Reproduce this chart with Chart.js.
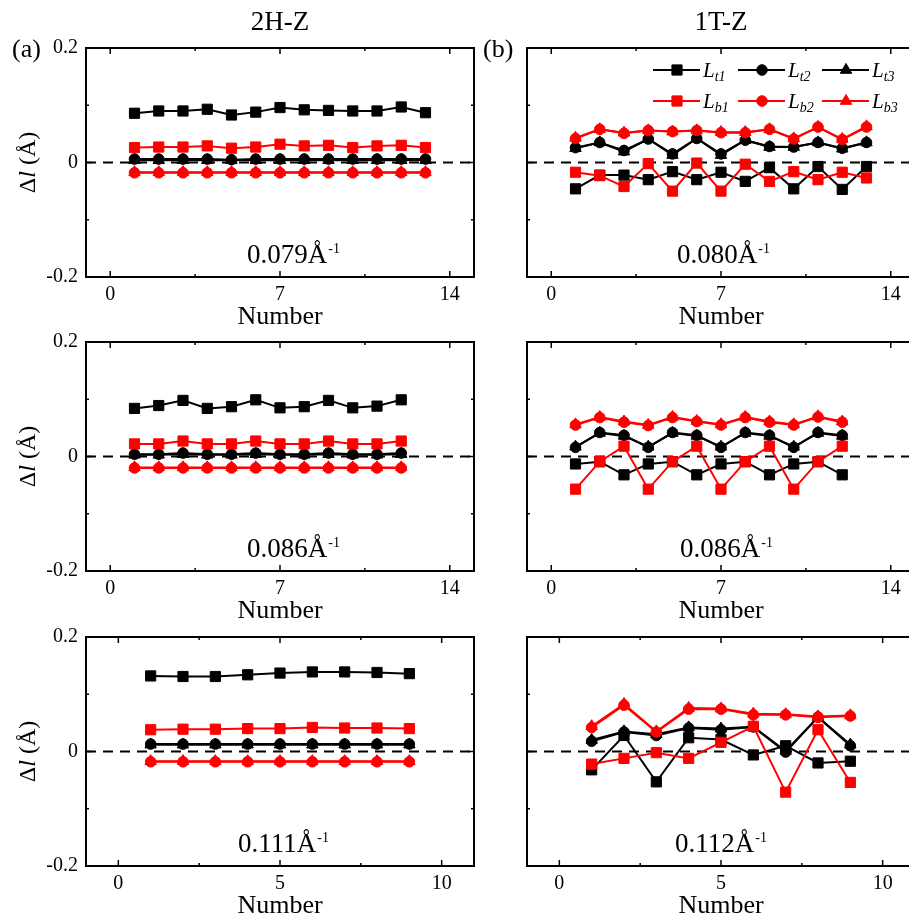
<!DOCTYPE html>
<html>
<head>
<meta charset="utf-8">
<script src="https://cdn.jsdelivr.net/npm/chart.js@4.4.1/dist/chart.umd.min.js"></script>
<style>
html, body { margin: 0; padding: 0; background: #fff; overflow: hidden; }
#page { position: relative; width: 909px; height: 918px; overflow: hidden; background: #fff; }
.panel { position: absolute; }
</style>
</head>
<body>
<div id="page">
<canvas id="a1" class="panel" width="514" height="329"></canvas>
<canvas id="b1" class="panel" width="514" height="329"></canvas>
<canvas id="a2" class="panel" width="514" height="329"></canvas>
<canvas id="b2" class="panel" width="514" height="329"></canvas>
<canvas id="a3" class="panel" width="514" height="329"></canvas>
<canvas id="b3" class="panel" width="514" height="329"></canvas>
</div>
<script>
// Number (x values)
const num13 = [1, 2, 3, 4, 5, 6, 7, 8, 9, 10, 11, 12, 13];
const num12 = [1, 2, 3, 4, 5, 6, 7, 8, 9, 10, 11, 12];
const num9 = [1, 2, 3, 4, 5, 6, 7, 8, 9];

// tick labels
const xTicks14 = [0, 7, 14];
const xMinor14 = [3.5, 10.5];
const xTicks10 = [0, 5, 10];
const xMinor10 = [2.5, 7.5];
const yTicks = [-0.2, 0, 0.2];
const yMinor = [-0.1, 0.1];
const yTickLabels = ['-0.2', '0', '0.2'];

// 2H-Z, 0.079 1/A
const a1Lt1 = [0.086, 0.090, 0.090, 0.093, 0.083, 0.088, 0.096, 0.092, 0.091, 0.090, 0.090, 0.097, 0.087];
const a1Lt2 = [0.006, 0.006, 0.006, 0.006, 0.005, 0.006, 0.006, 0.006, 0.006, 0.006, 0.006, 0.006, 0.006];
const a1Lt3 = [0.004, 0.004, 0.004, 0.004, 0.004, 0.004, 0.004, 0.004, 0.004, 0.004, 0.004, 0.004, 0.004];
const a1Lb1 = [0.026, 0.027, 0.027, 0.029, 0.025, 0.027, 0.032, 0.029, 0.030, 0.026, 0.029, 0.030, 0.026];
const a1Lb2 = [-0.018, -0.018, -0.018, -0.018, -0.018, -0.018, -0.018, -0.018, -0.018, -0.018, -0.018, -0.018, -0.018];
const a1Lb3 = [-0.017, -0.017, -0.017, -0.017, -0.017, -0.017, -0.017, -0.017, -0.017, -0.017, -0.017, -0.017, -0.017];

// 1T-Z, 0.080 1/A
const b1Lt1 = [-0.046, -0.022, -0.022, -0.030, -0.016, -0.030, -0.017, -0.033, -0.009, -0.046, -0.007, -0.047, -0.007];
const b1Lt2 = [0.026, 0.035, 0.021, 0.041, 0.015, 0.042, 0.015, 0.039, 0.028, 0.027, 0.035, 0.025, 0.035];
const b1Lt3 = [0.025, 0.035, 0.019, 0.041, 0.013, 0.042, 0.013, 0.039, 0.027, 0.027, 0.035, 0.024, 0.035];
const b1Lb1 = [-0.017, -0.023, -0.042, -0.002, -0.050, -0.001, -0.050, -0.003, -0.033, -0.016, -0.030, -0.017, -0.027];
const b1Lb2 = [0.042, 0.058, 0.051, 0.056, 0.054, 0.056, 0.052, 0.052, 0.058, 0.041, 0.062, 0.040, 0.062];
const b1Lb3 = [0.043, 0.058, 0.052, 0.056, 0.054, 0.056, 0.053, 0.053, 0.058, 0.042, 0.062, 0.041, 0.063];

// 2H-Z, 0.086 1/A
const a2Lt1 = [0.084, 0.089, 0.098, 0.084, 0.087, 0.099, 0.085, 0.087, 0.098, 0.085, 0.088, 0.099];
const a2Lt2 = [0.004, 0.004, 0.006, 0.004, 0.004, 0.006, 0.004, 0.004, 0.006, 0.004, 0.004, 0.006];
const a2Lt3 = [0.003, 0.003, 0.004, 0.003, 0.003, 0.004, 0.003, 0.003, 0.004, 0.003, 0.003, 0.004];
const a2Lb1 = [0.022, 0.022, 0.027, 0.022, 0.022, 0.027, 0.022, 0.022, 0.027, 0.022, 0.022, 0.027];
const a2Lb2 = [-0.020, -0.020, -0.020, -0.020, -0.020, -0.020, -0.020, -0.020, -0.020, -0.020, -0.020, -0.020];
const a2Lb3 = [-0.019, -0.019, -0.019, -0.019, -0.019, -0.019, -0.019, -0.019, -0.019, -0.019, -0.019, -0.019];

// 1T-Z, 0.086 1/A
const b2Lt1 = [-0.013, -0.009, -0.032, -0.013, -0.009, -0.032, -0.013, -0.009, -0.032, -0.013, -0.009, -0.032];
const b2Lt2 = [0.016, 0.042, 0.037, 0.016, 0.042, 0.037, 0.016, 0.042, 0.037, 0.016, 0.042, 0.037];
const b2Lt3 = [0.017, 0.041, 0.036, 0.017, 0.041, 0.036, 0.017, 0.041, 0.036, 0.017, 0.041, 0.036];
const b2Lb1 = [-0.057, -0.009, 0.018, -0.057, -0.009, 0.018, -0.057, -0.009, 0.018, -0.057, -0.009, 0.018];
const b2Lb2 = [0.055, 0.068, 0.060, 0.054, 0.068, 0.061, 0.055, 0.068, 0.060, 0.055, 0.069, 0.060];
const b2Lb3 = [0.056, 0.069, 0.061, 0.055, 0.069, 0.062, 0.056, 0.069, 0.061, 0.056, 0.070, 0.061];

// 2H-Z, 0.111 1/A
const a3Lt1 = [0.132, 0.131, 0.131, 0.134, 0.137, 0.139, 0.139, 0.138, 0.136];
const a3Lt2 = [0.013, 0.013, 0.013, 0.013, 0.013, 0.013, 0.013, 0.013, 0.013];
const a3Lt3 = [0.012, 0.012, 0.012, 0.012, 0.012, 0.012, 0.012, 0.012, 0.012];
const a3Lb1 = [0.038, 0.039, 0.039, 0.040, 0.040, 0.042, 0.041, 0.041, 0.040];
const a3Lb2 = [-0.018, -0.018, -0.018, -0.018, -0.018, -0.018, -0.018, -0.018, -0.018];
const a3Lb3 = [-0.017, -0.017, -0.017, -0.017, -0.017, -0.017, -0.017, -0.017, -0.017];

// 1T-Z, 0.112 1/A
const b3Lt1 = [-0.032, 0.028, -0.053, 0.024, 0.021, -0.006, 0.010, -0.020, -0.017];
const b3Lt2 = [0.018, 0.034, 0.028, 0.041, 0.038, 0.043, -0.001, 0.060, 0.010];
const b3Lt3 = [0.020, 0.035, 0.030, 0.042, 0.040, 0.043, 0.001, 0.060, 0.012];
const b3Lb1 = [-0.022, -0.012, -0.002, -0.012, 0.016, 0.044, -0.071, 0.038, -0.054];
const b3Lb2 = [0.042, 0.081, 0.034, 0.074, 0.074, 0.064, 0.064, 0.060, 0.062];
const b3Lb3 = [0.044, 0.083, 0.035, 0.076, 0.075, 0.066, 0.065, 0.061, 0.063];

const FONT = '"Liberation Serif", "Times New Roman", serif';

// layout of the 3x2 grid (plot boxes in page pixels)
const PAD = { left: 86, top: 48, right: 40, bottom: 52 };
const colLeft = [86, 527];
const rowTop = [48, 342, 637];

const seriesStyle = [
    { sub: 't1', color: '#000000', style: 'rect', r: 7.2 },
    { sub: 't2', color: '#000000', style: 'circle', r: 5.3 },
    { sub: 't3', color: '#000000', style: 'triangle', r: 6.6 },
    { sub: 'b1', color: '#ff0000', style: 'rect', r: 7.2 },
    { sub: 'b2', color: '#ff0000', style: 'circle', r: 5.3 },
    { sub: 'b3', color: '#ff0000', style: 'triangle', r: 6.6 }
];

const panels = [
    { id: 'a1', col: 0, row: 0, x: num13, xMax: 15, ticks: xTicks14, minor: xMinor14, note: '0.079', noteX: 161,
      series: [a1Lt1, a1Lt2, a1Lt3, a1Lb1, a1Lb2, a1Lb3], title: '2H-Z', tag: '(a)' },
    { id: 'b1', col: 1, row: 0, x: num13, xMax: 15, ticks: xTicks14, minor: xMinor14, note: '0.080', noteX: 150,
      series: [b1Lt1, b1Lt2, b1Lt3, b1Lb1, b1Lb2, b1Lb3], title: '1T-Z', tag: '(b)', legend: true },
    { id: 'a2', col: 0, row: 1, x: num12, xMax: 15, ticks: xTicks14, minor: xMinor14, note: '0.086', noteX: 161,
      series: [a2Lt1, a2Lt2, a2Lt3, a2Lb1, a2Lb2, a2Lb3] },
    { id: 'b2', col: 1, row: 1, x: num12, xMax: 15, ticks: xTicks14, minor: xMinor14, note: '0.086', noteX: 153,
      series: [b2Lt1, b2Lt2, b2Lt3, b2Lb1, b2Lb2, b2Lb3] },
    { id: 'a3', col: 0, row: 2, x: num9, xMax: 11, ticks: xTicks10, minor: xMinor10, note: '0.111', noteX: 152,
      series: [a3Lt1, a3Lt2, a3Lt3, a3Lb1, a3Lb2, a3Lb3] },
    { id: 'b3', col: 1, row: 2, x: num9, xMax: 11, ticks: xTicks10, minor: xMinor10, note: '0.112', noteX: 148,
      series: [b3Lt1, b3Lt2, b3Lt3, b3Lb1, b3Lb2, b3Lb3] }
];

// draw a marker like the chart points (used in the legend)
const drawMarker = (ctx, style, x, y, r) => {
    ctx.beginPath();
    if (style === 'rect') {
        const h = r * Math.SQRT1_2;
        ctx.rect(x - h, y - h, 2 * h, 2 * h);
    } else if (style === 'circle') {
        ctx.arc(x, y, r, 0, Math.PI * 2);
    } else {
        for (let k = 0; k < 3; k++) {
            const ang = k * 2 * Math.PI / 3;
            ctx.lineTo(x + Math.sin(ang) * r, y - Math.cos(ang) * r);
        }
        ctx.closePath();
    }
    ctx.fill();
    ctx.stroke();
};

const drawLegend = (ctx, a) => {
    const cols = [126, 211, 295];
    const rows = [22, 53];
    seriesStyle.forEach((s, i) => {
        const x0 = a.left + cols[i % 3];
        const y = a.top + rows[Math.floor(i / 3)];
        ctx.strokeStyle = s.color;
        ctx.fillStyle = s.color;
        ctx.lineWidth = 2;
        ctx.beginPath();
        ctx.moveTo(x0, y);
        ctx.lineTo(x0 + 47, y);
        ctx.stroke();
        ctx.lineWidth = 1;
        drawMarker(ctx, s.style, x0 + 24, y, s.r);
        ctx.fillStyle = '#000';
        ctx.textAlign = 'left';
        ctx.textBaseline = 'alphabetic';
        ctx.font = 'italic 21px ' + FONT;
        ctx.fillText('L', x0 + 50, y + 7);
        const w = ctx.measureText('L').width;
        ctx.font = 'italic 14px ' + FONT;
        ctx.fillText(s.sub, x0 + 50 + w, y + 11);
    });
};

// frame, inward ticks, labels and annotations
const makeDecor = (p) => ({
    id: 'decor',
    beforeDatasetsDraw(chart) {
        const { ctx, chartArea: a, scales } = chart;
        const y0 = scales.y.getPixelForValue(0);
        ctx.save();
        ctx.setLineDash([10, 7]);
        ctx.lineWidth = 2;
        ctx.strokeStyle = '#000';
        ctx.beginPath();
        ctx.moveTo(a.left, y0);
        ctx.lineTo(a.right, y0);
        ctx.stroke();
        ctx.restore();
    },
    afterDraw(chart) {
        const { ctx, chartArea: a, scales } = chart;
        const sx = scales.x, sy = scales.y;
        ctx.save();
        ctx.strokeStyle = '#000';
        ctx.fillStyle = '#000';
        ctx.lineWidth = 2;
        ctx.strokeRect(a.left, a.top, a.right - a.left, a.bottom - a.top);

        // ticks
        const tick = (x1, y1, x2, y2) => {
            ctx.beginPath();
            ctx.moveTo(x1, y1);
            ctx.lineTo(x2, y2);
            ctx.stroke();
        };
        ctx.lineWidth = 1.5;
        p.ticks.forEach(v => {
            const px = sx.getPixelForValue(v);
            tick(px, a.bottom, px, a.bottom - 6);
            tick(px, a.top, px, a.top + 6);
        });
        p.minor.forEach(v => {
            const px = sx.getPixelForValue(v);
            tick(px, a.bottom, px, a.bottom - 3);
            tick(px, a.top, px, a.top + 3);
        });
        yTicks.forEach(v => {
            const py = sy.getPixelForValue(v);
            tick(a.left, py, a.left + 6, py);
            tick(a.right, py, a.right - 6, py);
        });
        yMinor.forEach(v => {
            const py = sy.getPixelForValue(v);
            tick(a.left, py, a.left + 3, py);
            tick(a.right, py, a.right - 3, py);
        });

        // x tick labels and title
        ctx.font = '20px ' + FONT;
        ctx.textAlign = 'center';
        ctx.textBaseline = 'middle';
        p.ticks.forEach(v => {
            ctx.fillText(String(v), sx.getPixelForValue(v), a.bottom + 18);
        });
        ctx.font = '26px ' + FONT;
        ctx.textBaseline = 'alphabetic';
        ctx.fillText('Number', (a.left + a.right) / 2, a.bottom + 47);

        // y tick labels and title (left column only)
        if (p.col === 0) {
            ctx.font = '20px ' + FONT;
            ctx.textAlign = 'right';
            ctx.textBaseline = 'middle';
            yTicks.forEach((v, i) => {
                ctx.fillText(yTickLabels[i], a.left - 8, sy.getPixelForValue(v));
            });
            const parts = [['Δ', ''], ['l', 'italic '], [' (Å)', '']];
            ctx.save();
            ctx.translate(29, sy.getPixelForValue(0));
            ctx.rotate(-Math.PI / 2);
            ctx.textAlign = 'left';
            let total = 0;
            parts.forEach(([t, st]) => {
                ctx.font = st + '24px ' + FONT;
                total += ctx.measureText(t).width;
            });
            let cx = -total / 2;
            parts.forEach(([t, st]) => {
                ctx.font = st + '24px ' + FONT;
                ctx.fillText(t, cx, 0);
                cx += ctx.measureText(t).width;
            });
            ctx.restore();
        }

        // curvature annotation
        ctx.textAlign = 'left';
        ctx.textBaseline = 'alphabetic';
        ctx.font = '27px ' + FONT;
        const nx = a.left + p.noteX, ny = a.bottom - 14;
        ctx.fillText(p.note + 'Å', nx, ny);
        const nw = ctx.measureText(p.note + 'Å').width;
        ctx.font = '14px ' + FONT;
        ctx.fillText('-1', nx + nw + 1, ny - 10);

        // column title and panel tag
        if (p.title) {
            ctx.font = '27px ' + FONT;
            ctx.textAlign = 'center';
            ctx.fillText(p.title, (a.left + a.right) / 2, a.top - 18);
        }
        if (p.tag) {
            ctx.font = '26px ' + FONT;
            ctx.textAlign = 'left';
            ctx.fillText(p.tag, a.left - (p.col === 0 ? 74 : 44), a.top + 9);
        }
        if (p.legend) drawLegend(ctx, a);
        ctx.restore();
    }
});

panels.forEach(p => {
    const canvas = document.getElementById(p.id);
    canvas.style.left = (colLeft[p.col] - PAD.left) + 'px';
    canvas.style.top = (rowTop[p.row] - PAD.top) + 'px';
    new Chart(canvas, {
        type: 'line',
        data: {
            datasets: p.series.map((ys, i) => {
                const s = seriesStyle[i];
                return {
                    label: 'L' + s.sub,
                    data: ys.map((y, k) => ({ x: p.x[k], y: y })),
                    borderColor: s.color,
                    backgroundColor: s.color,
                    borderWidth: 2,
                    pointStyle: s.style,
                    pointRadius: s.r,
                    pointBackgroundColor: s.color,
                    pointBorderColor: s.color,
                    pointBorderWidth: 1,
                    tension: 0,
                    order: 6 - i,
                    clip: false
                };
            })
        },
        options: {
            responsive: false,
            animation: false,
            events: [],
            layout: { padding: PAD },
            scales: {
                x: { type: 'linear', min: -1, max: p.xMax, display: false },
                y: { type: 'linear', min: -0.2, max: 0.2, display: false }
            },
            plugins: {
                legend: { display: false },
                tooltip: { enabled: false }
            }
        },
        plugins: [makeDecor(p)]
    });
});
</script>
</body>
</html>
